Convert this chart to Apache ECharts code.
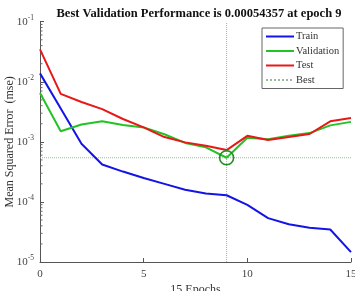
<!DOCTYPE html>
<html>
<head>
<meta charset="utf-8">
<script src="https://cdn.jsdelivr.net/npm/echarts@6/dist/echarts.min.js"></script>
<style>
    html, body { margin: 0; padding: 0; background: #fff; }
    #container { width: 355px; height: 291px; }
</style>
</head>
<body>
<div id="container"></div>
<script type="text/javascript">
    // data
    var epochs = [0, 1, 2, 3, 4, 5, 6, 7, 8, 9, 10, 11, 12, 13, 14, 15];
    var trainErr = [0.0138, 0.0036, 0.00093, 0.00042, 0.00032, 0.00025, 0.0002, 0.00016, 0.000138, 0.000129,
        0.0000891, 0.0000537, 0.0000425, 0.0000371, 0.0000347, 0.0000146];
    var validErr = [0.0065, 0.0015, 0.00195, 0.0022, 0.0019, 0.00174, 0.00134, 0.00096, 0.00081, 0.00054357,
        0.00117, 0.00111, 0.00126, 0.0014, 0.00188, 0.00215];
    var testErr = [0.0347, 0.0063, 0.0046, 0.0035, 0.0024, 0.00174, 0.0012, 0.00098, 0.00086, 0.00073,
        0.00126, 0.00107, 0.0012, 0.00135, 0.0022, 0.0025];
    var bestEpoch = 9;
    var bestPerf = 0.00054357;
    var yTicks = [1e-5, 1e-4, 1e-3, 1e-2, 1e-1];
    var xTicks = [0, 5, 10, 15];

    var serif = '"Liberation Serif", "DejaVu Serif", serif';
    var bestColor = '#9cb89c';

    function pairs(ys) {
        return epochs.map(function (e, i) { return [e, ys[i]]; });
    }

    // minor tick values for the log axis (2..9 of each decade)
    var minorVals = [];
    for (var d = 0; d < yTicks.length - 1; d++) {
        for (var m = 2; m <= 9; m++) {
            minorVals.push([0, yTicks[d] * m]);
        }
    }

    var dom = document.getElementById("container");
    var myChart = echarts.init(dom);

    var option = {
        animation: false,
        title: {
            text: 'Best Validation Performance is ' + bestPerf + ' at epoch ' + bestEpoch,
            left: 194,
            textAlign: 'center',
            top: 2,
            textStyle: {fontFamily: serif, fontSize: 12.5, fontWeight: 'bold', color: '#111'}
        },
        grid: {left: 40, right: 4, top: 21.7, bottom: 29, outerBoundsMode: 'none', containLabel: false},
        legend: {
            data: ['Train', 'Validation', 'Test', 'Best'],
            orient: 'vertical',
            left: 262,
            top: 28,
            width: 80,
            itemWidth: 28,
            itemHeight: 8,
            itemGap: 3.5,
            padding: [3, 4, 3, 3],
            borderColor: '#666',
            borderWidth: 1,
            backgroundColor: '#fff',
            itemStyle: {color: 'rgba(0,0,0,0)', borderWidth: 0, opacity: 0},
            textStyle: {fontFamily: serif, fontSize: 10.5, color: '#333', padding: [0, 0, 0, -3]}
        },
        xAxis: {
            type: 'value',
            min: 0,
            max: 15,
            interval: 5,
            name: '15 Epochs',
            nameLocation: 'middle',
            nameGap: 22,
            nameMoveOverlap: false,
            nameTextStyle: {fontFamily: serif, fontSize: 12, color: '#333'},
            axisLine: {lineStyle: {color: '#555'}},
            axisTick: {inside: true, length: 4, lineStyle: {color: '#555'}},
            axisLabel: {fontFamily: serif, fontSize: 11, color: '#444', margin: 7,
                formatter: function (v) { return xTicks.indexOf(v) >= 0 ? v : ''; }},
            splitLine: {show: false}
        },
        yAxis: {
            type: 'log',
            logBase: 10,
            min: 1e-5,
            max: 1e-1,
            name: 'Mean Squared Error  (mse)',
            nameLocation: 'middle',
            nameGap: 24,
            nameMoveOverlap: false,
            nameTextStyle: {fontFamily: serif, fontSize: 12, color: '#333'},
            axisLine: {show: true, lineStyle: {color: '#555'}},
            axisTick: {inside: true, length: 4, lineStyle: {color: '#555'}},
            axisLabel: {
                margin: 6,
                formatter: function (v) {
                    var e = Math.round(Math.log10(v));
                    return '{b|10}{s|' + e + '}';
                },
                rich: {
                    b: {fontFamily: serif, fontSize: 11, color: '#444'},
                    s: {fontFamily: serif, fontSize: 7.5, color: '#444', padding: [0, 0, 7, 0]}
                }
            },
            splitLine: {show: false}
        },
        series: [
            {
                name: 'Best',
                type: 'line',
                data: [[bestEpoch, yTicks[0]], [bestEpoch, yTicks[yTicks.length - 1]]],
                symbol: 'none',
                silent: true,
                lineStyle: {color: bestColor, width: 1, type: 'dotted'},
                itemStyle: {color: bestColor},
                z: 1
            },
            {
                name: 'Best',
                type: 'line',
                data: [[xTicks[0], bestPerf], [xTicks[xTicks.length - 1], bestPerf]],
                symbol: 'none',
                silent: true,
                lineStyle: {color: bestColor, width: 1, type: 'dotted'},
                itemStyle: {color: bestColor},
                z: 1
            },
            {
                name: 'Train',
                type: 'line',
                data: pairs(trainErr),
                symbol: 'none',
                lineStyle: {color: '#1414e6', width: 2},
                itemStyle: {color: '#1414e6'},
                z: 3
            },
            {
                name: 'Validation',
                type: 'line',
                data: pairs(validErr),
                symbol: 'none',
                lineStyle: {color: '#22c322', width: 2},
                itemStyle: {color: '#22c322'},
                z: 3
            },
            {
                name: 'Test',
                type: 'line',
                data: pairs(testErr),
                symbol: 'none',
                lineStyle: {color: '#e81818', width: 2},
                itemStyle: {color: '#e81818'},
                z: 4
            },
            {
                name: 'bestPoint',
                type: 'scatter',
                data: [[bestEpoch, bestPerf]],
                symbol: 'circle',
                symbolSize: 14,
                itemStyle: {color: 'rgba(0,0,0,0)', borderColor: '#1e8c1e', borderWidth: 1.5, opacity: 1},
                z: 5
            },
            {
                name: 'minorTicks',
                type: 'custom',
                data: minorVals,
                silent: true,
                renderItem: function (params, api) {
                    var pt = api.coord([0, api.value(1)]);
                    return {
                        type: 'line',
                        shape: {x1: pt[0], y1: pt[1], x2: pt[0] + 2.5, y2: pt[1]},
                        style: {stroke: '#666', lineWidth: 1}
                    };
                },
                z: 2
            }
        ]
    };
    myChart.setOption(option, true);
</script>
</body>
</html>
